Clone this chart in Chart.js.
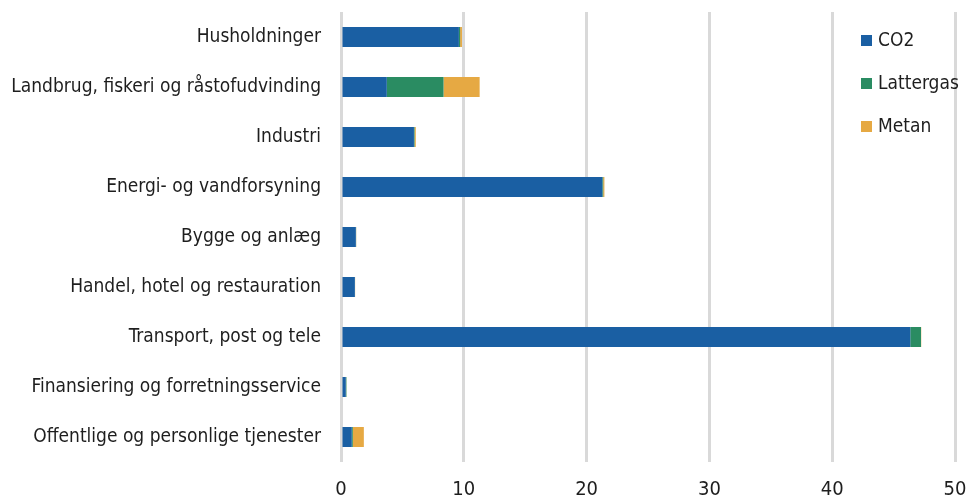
<!DOCTYPE html>
<html>
<head>
<meta charset="utf-8">
<script src="https://cdn.jsdelivr.net/npm/chart.js@4.4.1/dist/chart.umd.min.js"></script>
<style>
  html, body { margin: 0; padding: 0; background: #fff; }
  #wrap { position: relative; width: 967px; height: 500px; }
</style>
</head>
<body>
<div id="wrap"><canvas id="emissionChart"></canvas></div>
<script>
const categories = [
  "Husholdninger",
  "Landbrug, fiskeri og råstofudvinding",
  "Industri",
  "Energi- og vandforsyning",
  "Bygge og anlæg",
  "Handel, hotel og restauration",
  "Transport, post og tele",
  "Finansiering og forretningsservice",
  "Offentlige og personlige tjenester",
];
const co2 = [9.6, 3.73, 5.94, 21.28, 1.21, 1.13, 46.36, 0.39, 0.88];
const lattergas = [0.1, 4.62, 0.05, 0.07, 0.02, 0.01, 0.87, 0.05, 0.08];
const metan = [0.15, 2.94, 0.1, 0.1, 0.01, 0.01, 0.02, 0.01, 0.9];
const xTicks = [0, 10, 20, 30, 40, 50];

const fontFamily = "'DejaVu Sans Condensed', 'Liberation Sans Narrow', sans-serif";
const colors = {
  co2: "#1a5fa3",
  lattergas: "#2a8c62",
  metan: "#e6a943",
  grid: "#d9d9d9",
  text: "#1e1e1e",
};

const ctx = document.getElementById("emissionChart");

new Chart(ctx, {
  type: "bar",
  data: {
    labels: categories,
    datasets: [
      { label: "CO2", data: co2, backgroundColor: colors.co2 },
      { label: "Lattergas", data: lattergas, backgroundColor: colors.lattergas },
      { label: "Metan", data: metan, backgroundColor: colors.metan },
    ],
  },
  options: {
    indexAxis: "y",
    responsive: true,
    maintainAspectRatio: false,
    animation: false,
    datasets: {
      bar: {
        barPercentage: 0.8,
        categoryPercentage: 0.5,
      },
    },
    layout: {
      padding: { top: 12, right: 12, left: 0, bottom: 0 },
    },
    scales: {
      x: {
        stacked: true,
        min: 0,
        max: 50,
        afterBuildTicks: (scale) => {
          scale.ticks = xTicks.map((v) => ({ value: v }));
        },
        afterFit: (scale) => {
          scale.height = 38;
          scale.paddingLeft = 0;
          scale.paddingRight = 0;
        },
        border: { display: false },
        grid: {
          color: colors.grid,
          lineWidth: 3,
          drawTicks: false,
        },
        ticks: {
          color: colors.text,
          padding: 16,
          font: { family: fontFamily, size: 20 },
        },
      },
      y: {
        stacked: true,
        afterFit: (scale) => {
          scale.width = 341;
        },
        border: { display: false },
        grid: {
          display: true,
          drawOnChartArea: false,
          drawTicks: true,
          tickLength: 20,
          color: "rgba(0,0,0,0)",
        },
        ticks: {
          color: colors.text,
          padding: 0,
          font: { family: fontFamily, size: 19 },
        },
      },
    },
    plugins: {
      legend: { display: false },
      tooltip: { enabled: false },
      sideLegend: { x: 861, y: 40, gap: 43 },
    },
  },
  plugins: [
    {
      id: "sideLegend",
      afterDraw(c, args, options) {
        const g = c.ctx;
        const items = c.options.plugins.legend.labels.generateLabels(c);
        g.save();
        g.font = `19px ${fontFamily}`;
        g.textBaseline = "middle";
        items.forEach((item, i) => {
          const y = options.y + i * options.gap;
          g.fillStyle = item.fillStyle;
          g.fillRect(options.x, y - 5, 11, 11);
          g.fillStyle = colors.text;
          g.fillText(item.text, options.x + 17, y + 1);
        });
        g.restore();
      },
    },
  ],
});
</script>
</body>
</html>
